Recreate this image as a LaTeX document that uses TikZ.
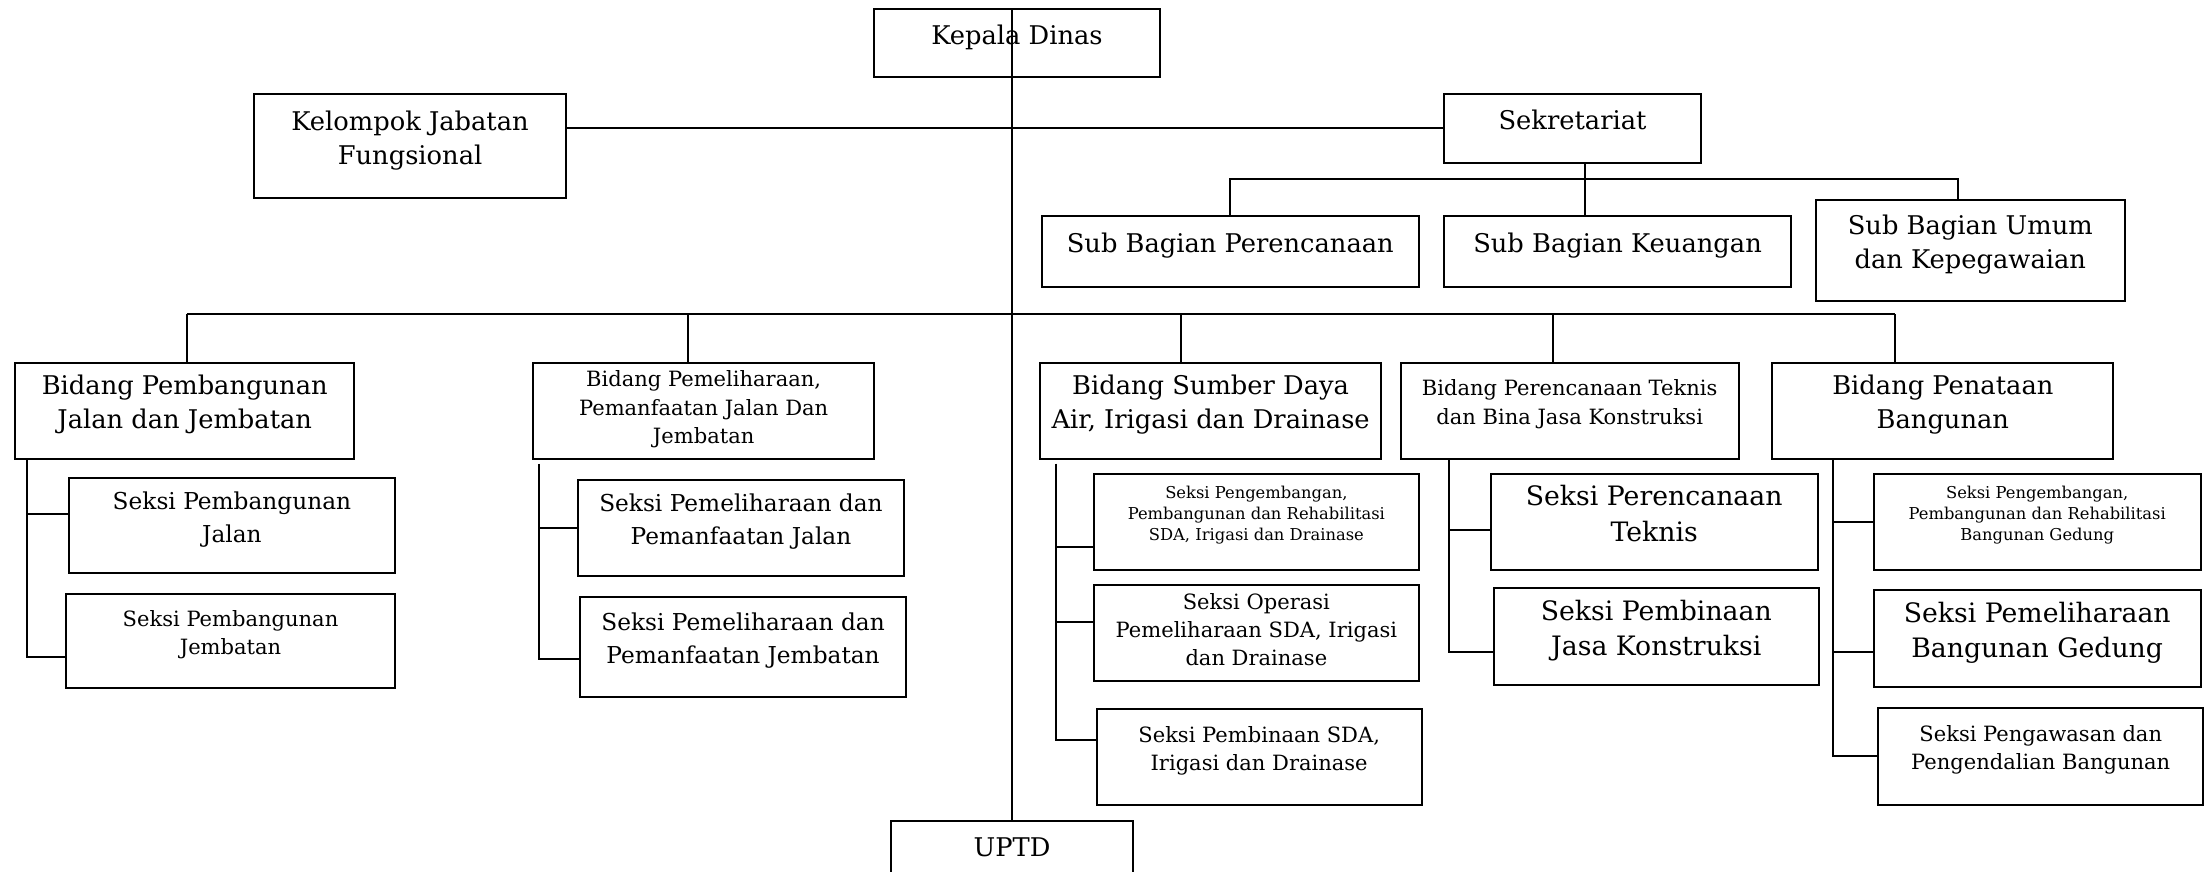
\documentclass[tikz,border=0pt]{standalone}
\usepackage{fontspec}
\setmainfont{DejaVu Serif}
\usetikzlibrary{positioning,calc}
\tikzset{
	unit/.style={draw, line width=0.8pt, align=center, anchor=north west, inner sep=1pt, text depth=7pt},
	ukuran/.style 2 args={minimum width=#1*0.2mm, minimum height=#2*0.2mm},
	besar/.style={font=\fontsize{10.8}{14.2}\selectfont},
	sedang/.style={font=\fontsize{10.4}{13.8}\selectfont},
	seksi/.style={font=\fontsize{9.4}{13.4}\selectfont},
	kecil/.style={font=\fontsize{8.5}{11.4}\selectfont},
	mini/.style={font=\fontsize{6.6}{8.5}\selectfont},
	garis/.style={line width=0.8pt},
	tegak/.style={line width=0.6pt}
}

\begin{document}
\begin{tikzpicture}[x=0.2mm, y=-0.2mm]
	\useasboundingbox (0,0) rectangle (1568,619);
	\clip (0,0) rectangle (1568,619);

	%Pimpinan
	\node[unit,sedang,ukuran={203}{48}] (kadis) at (620,6) {Kepala Dinas};
	\node[unit,sedang,ukuran={221}{74}] (kjf) at (180,66) {Kelompok Jabatan\\Fungsional};
	\node[unit,sedang,ukuran={182}{49}] (sek) at (1025,66) {Sekretariat};

	%Sub bagian
	\node[unit,sedang,ukuran={268}{50}] (sbp) at (739,153) {Sub Bagian Perencanaan};
	\node[unit,sedang,ukuran={246}{50}] (sbk) at (1025,153) {Sub Bagian Keuangan};
	\node[unit,sedang,ukuran={219}{72}] (sbu) at (1289,141) {Sub Bagian Umum\\dan Kepegawaian};

	%Bidang
	\node[unit,sedang,ukuran={241}{68}] (bpj) at (10,257) {Bidang Pembangunan\\Jalan dan Jembatan};
	\node[unit,kecil,ukuran={242}{68},text depth=3pt] (bpm) at (378,257) {Bidang Pemeliharaan,\\Pemanfaatan Jalan Dan\\Jembatan};
	\node[unit,sedang,ukuran={242}{68}] (bsd) at (738,257) {Bidang Sumber Daya\\Air, Irigasi dan Drainase};
	\node[unit,kecil,ukuran={240}{68}] (bpt) at (994,257) {Bidang Perencanaan Teknis\\dan Bina Jasa Konstruksi};
	\node[unit,sedang,ukuran={242}{68}] (bpb) at (1258,257) {Bidang Penataan\\Bangunan};

	%Seksi
	\node[unit,seksi,ukuran={232}{67}] (s11) at (48,339) {Seksi Pembangunan\\Jalan};
	\node[unit,kecil,ukuran={234}{67}] (s12) at (46,421) {Seksi Pembangunan\\Jembatan};
	\node[unit,seksi,ukuran={231}{68}] (s21) at (410,340) {Seksi Pemeliharaan dan\\Pemanfaatan Jalan};
	\node[unit,seksi,ukuran={232}{71}] (s22) at (411,423) {Seksi Pemeliharaan dan\\Pemanfaatan Jembatan};
	\node[unit,mini,ukuran={231}{68}] (s31) at (776,336) {Seksi Pengembangan,\\Pembangunan dan Rehabilitasi\\SDA, Irigasi dan Drainase};
	\node[unit,kecil,ukuran={231}{68},text depth=3pt] (s32) at (776,415) {Seksi Operasi\\Pemeliharaan SDA, Irigasi\\dan Drainase};
	\node[unit,kecil,ukuran={231}{68}] (s33) at (778,503) {Seksi Pembinaan SDA,\\Irigasi dan Drainase};
	\node[unit,besar,ukuran={232}{68}] (s41) at (1058,336) {Seksi Perencanaan\\Teknis};
	\node[unit,besar,ukuran={231}{69}] (s42) at (1060,417) {Seksi Pembinaan\\Jasa Konstruksi};
	\node[unit,mini,ukuran={232}{68}] (s51) at (1330,336) {Seksi Pengembangan,\\Pembangunan dan Rehabilitasi\\Bangunan Gedung};
	\node[unit,besar,ukuran={232}{69}] (s52) at (1330,418) {Seksi Pemeliharaan\\Bangunan Gedung};
	\node[unit,kecil,ukuran={231}{69}] (s53) at (1333,502) {Seksi Pengawasan dan\\Pengendalian Bangunan};

	\node[unit,sedang,ukuran={172}{50}] (uptd) at (632,582) {UPTD};

	%Garis komando
	\draw[tegak] (kadis.north -| uptd.north) -- (uptd.north);
	\draw[garis] (sek.west) -- (sek.west -| kjf.east);

	\coordinate (sekt) at ([xshift=1.8mm]sek.south);
	\draw[tegak] (sekt) -- (sekt |- sbk.north);
	\coordinate (bus2) at (0,127);
	\coordinate (sbu-top) at ([xshift=-1.7mm]sbu.north);
	\draw[garis] (sbp.north) |- (sbu-top |- bus2) -- (sbu-top);

	\coordinate (bus) at (0,223);
	\foreach \n/\dx in {bpj/0.3mm, bpm/-2.2mm, bsd/-4.2mm, bpt/-2.4mm, bpb/-6.8mm}{
		\coordinate (\n-top) at ([xshift=\dx]\n.north);
		\draw[tegak] (\n-top) -- (\n-top |- bus);
	}
	\draw[garis] (bpj-top |- bus) -- (bpb-top |- bus);

	%Garis seksi
	\coordinate (k1) at ([xshift=1.8mm]bpj.south west);
	\coordinate (k2) at ([xshift=1mm,yshift=-0.6mm]bpm.south west);
	\coordinate (k3) at ([xshift=2.4mm,yshift=-0.6mm]bsd.south west);
	\coordinate (k4) at ([xshift=7mm]bpt.south west);
	\coordinate (k5) at ([xshift=8.8mm]bpb.south west);

	\draw[garis] (k1) |- ([yshift=1.7mm]s11.west);
	\draw[garis] (k1) |- ([yshift=-2.3mm]s12.west);
	\draw[garis] (k2) |- (s21.west);
	\draw[garis] (k2) |- ([yshift=-1.7mm]s22.west);
	\draw[garis] (k3) |- ([yshift=-3.6mm]s31.west);
	\draw[garis] (k3) |- ([yshift=1.6mm]s32.west);
	\draw[garis] (k3) |- ([yshift=2.4mm]s33.west);
	\draw[garis] (k4) |- ([yshift=-1.2mm]s41.west);
	\draw[garis] (k4) |- ([yshift=-2.1mm]s42.west);
	\draw[garis] (k5) |- (s51.west);
	\draw[garis] (k5) |- ([yshift=-1.9mm]s52.west);
	\draw[garis] (k5) |- (s53.west);
\end{tikzpicture}
\end{document}
